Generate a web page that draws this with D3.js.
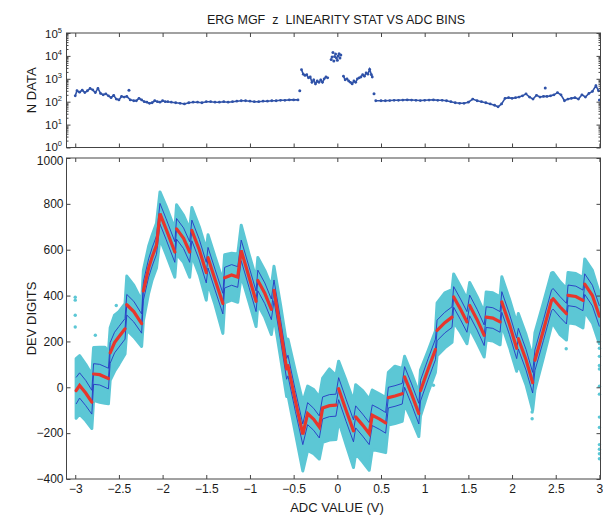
<!DOCTYPE html>
<html><head><meta charset="utf-8">
<script src="https://cdn.jsdelivr.net/npm/d3@7"></script>
<style>
body{margin:0;background:#fff}
svg{display:block}
text{font-family:"Liberation Sans",Arial,sans-serif;fill:#1a1a1a}
</style>
</head><body>
<svg id="c" width="603" height="516"></svg>
<script>
// ---------- DATA ----------
const titleText = "ERG MGF  z  LINEARITY STAT VS ADC BINS";
const xTicks = [-3,-2.5,-2,-1.5,-1,-0.5,0,0.5,1,1.5,2,2.5,3];
const yTopExp = [0,1,2,3,4,5];
const yBotTicks = [-400,-200,0,200,400,600,800,1000];

// Top panel: counts per ADC bin (main sequence, null = gap)
const topV = [-3.00,-2.98,-2.95,-2.92,-2.89,-2.86,-2.83,-2.80,-2.77,-2.74,-2.71,-2.68,-2.65,-2.62,-2.59,-2.56,-2.53,-2.50,-2.47,-2.44,-2.41,-2.37,-2.33,-2.30,-2.27,-2.24,-2.21,-2.18,-2.15,-2.12,-2.09,-2.06,-2.03,-2.00,-1.97,-1.94,-1.90,-1.85,-1.80,-1.75,-1.70,-1.65,-1.60,-1.55,-1.50,-1.45,-1.40,-1.35,-1.30,-1.25,-1.20,-1.15,-1.10,-1.05,-1.00,-0.95,-0.90,-0.85,-0.80,-0.75,-0.70,-0.65,-0.60,-0.55,-0.50,-0.45,-0.44,
  -0.41,-0.39,-0.37,-0.35,-0.33,-0.31,-0.29,-0.27,-0.25,-0.23,-0.21,-0.19,-0.17,-0.15,-0.13,-0.11,-0.10,
  0.07,0.09,0.11,0.13,0.15,0.17,0.19,0.21,0.23,0.25,0.27,0.29,0.31,0.33,0.35,0.37,0.39,0.40,0.41,
  0.44,0.50,0.55,0.60,0.65,0.70,0.75,0.80,0.85,0.90,0.95,1.00,1.05,1.10,1.15,1.20,1.25,1.30,1.35,1.40,1.45,1.50,1.55,1.60,1.65,1.70,1.75,1.80,1.84,1.88,1.92,1.96,2.00,2.04,2.08,2.12,2.16,2.20,2.24,2.28,2.32,2.36,2.40,2.44,2.48,2.52,2.56,2.60,2.64,2.68,2.72,2.76,2.80,2.84,2.88,2.92,2.96,2.99];
const topN = [180,300,260,320,250,300,380,330,250,380,230,200,220,180,150,190,130,120,170,160,170,120,110,110,140,120,100,95,85,90,110,100,95,110,100,100,95,90,85,80,90,95,95,90,100,100,95,95,100,95,100,105,110,110,105,100,100,105,105,110,110,115,115,120,120,120,null,
  2500,1600,1400,1500,1100,1200,700,900,600,800,700,900,700,1000,1200,1100,null,
  1300,900,1000,800,700,600,800,700,1000,1100,1200,1500,1300,1800,1600,2600,1500,1200,null,
  110,110,110,112,115,115,118,120,118,115,112,115,118,120,115,115,110,100,90,85,85,95,130,110,100,90,80,70,60,80,140,150,140,150,160,180,220,160,130,190,160,170,170,180,200,250,200,110,130,140,150,130,200,160,230,280,500,300];
// isolated points in the top panel
const topSpikeV = [-2.385,-0.43,-0.07,-0.06,-0.05,-0.04,-0.03,-0.02,-0.01,0.00,0.01,0.02,0.03,0.04,0.42,2.38,3.00];
const topSpikeN = [320,300,7000,9000,14000,6000,9500,12000,8000,6500,10000,12500,8000,11000,220,400,120];

// Bottom panel: bin means, std dev, and spread of the raw points
const adcV = [-2.99,-2.95,-2.88,-2.81, -2.79,-2.72,-2.66,-2.62, -2.60,-2.55,-2.50,-2.43, -2.41,-2.33,-2.24,
  -2.22,-2.16,-2.12,-2.07,-2.03, -1.96,-1.86, -1.84,-1.76,-1.69, -1.665,-1.58,-1.50, -1.48,-1.40,-1.31,
  -1.29,-1.21,-1.14, -1.10,-1.01,-0.93, -0.91,-0.83,-0.755, -0.725,-0.65,-0.58, -0.565,-0.48,-0.395,
  -0.34,-0.27,-0.206, -0.168,-0.09,-0.016, 0.015,0.10,0.185, 0.21,0.29,0.365, 0.40,0.48,0.553,
  0.584,0.66,0.743, 0.77,0.85,0.933, 0.952,1.04,1.123, 1.142,1.23,1.313, 1.332,1.41,1.484,
  1.515,1.60,1.681, 1.704,1.78,1.863, 1.883,1.97,2.053, 2.072,2.16,2.236, 2.262,2.36,2.452,
  2.47,2.55,2.623, 2.641,2.73,2.812, 2.832,2.92,3.00];
const devMean = [-15,8,-25,-65, 58,55,45,38, 150,195,220,255, 360,330,278,
  420,520,568,620,757, 690,590, 691,650,590, 684,600,500, 565,470,365,
  478,490,481, 597,480,375, 466,410,340, 423,250,80, 95,-60,-205,
  -115,-140,-173, -90,-80,-78, -6,-100,-190, -129,-165,-202, -122,-138,-155,
  -45,-38,-28, 45,-30,-115, -15,80,165, 248,282,306, 394,340,285,
  357,295,227, 306,302,285, 372,275,170, 212,120,20, 118,250,379,
  386,350,321, 401,396,379, 450,400,310];
const devSd = [58,55,55,52, 45,45,45,45, 45,45,45,45, 45,45,42,
  40,40,40,40,45, 45,45, 45,45,45, 45,45,45, 45,45,45,
  45,45,45, 45,45,45, 45,45,45, 45,45,45, 45,45,45,
  48,48,48, 48,48,48, 48,48,48, 48,48,48, 45,45,45,
  45,45,45, 45,45,45, 45,45,45, 45,45,45, 45,45,45,
  45,45,45, 45,45,45, 45,45,45, 45,45,45, 45,45,45,
  45,45,45, 45,45,45, 45,45,45];
const cloudUp = [140,130,125,120, 115,120,130,115, 110,120,110,110, 125,115,100,
  90,95,95,95,95, 100,100, 105,100,100, 100,100,100, 100,100,100,
  100,95,100, 110,100,100, 100,100,100, 105,110,110, 115,130,140,
  120,130,130, 130,160,130, 120,130,130, 140,150,150, 110,110,110,
  110,130,110, 90,90,90, 90,80,80, 120,130,120, 100,100,100,
  100,100,100, 110,110,110, 110,110,110, 110,110,110, 120,120,120,
  115,110,110, 100,100,100, 110,110,100];
const cloudDn = [120,125,120,115, 115,120,115,110, 120,125,120,110, 110,110,100,
  130,110,100,100,110, 110,110, 110,105,110, 110,110,120, 110,110,130,
  110,110,110, 110,110,110, 105,105,110, 115,120,120, 130,140,160,
  160,150,140, 150,150,150, 140,150,160, 160,160,160, 150,140,130,
  120,120,120, 120,110,100, 110,100,100, 110,110,110, 110,100,95,
  100,100,95, 100,100,100, 100,100,100, 110,110,120, 130,120,110,
  110,120,115, 120,120,120, 120,120,120];
// stray raw points outside the main band
const strayV = [-3.0,-3.0,-3.0,-3.0,-2.77,-2.53,1.10,2.23,2.23,2.62,3.0,3.0,3.0,3.0,3.0,3.0,3.0,3.0,3.0,3.0,3.0,3.0,3.0,3.0];
const strayD = [393,380,314,263,227,357,9,-108,-137,168,230,200,170,135,95,80,5,-30,-130,-175,-250,-270,-290,-312];

// ---------- CHART ----------
const svg = d3.select('#c');
const L = 66.5, R = 600.5;
const T1 = 33, B1 = 147.5, T2 = 158, B2 = 479;
const x = d3.scaleLinear().domain([-3.1, 3.0125]).range([L, R]);
const yTop = d3.scaleLog().domain([1, 1e5]).range([B1, T1]);
const yBot = d3.scaleLinear().domain([-400, 1000]).range([B2, T2]);

const axisCol = '#444';
function styleAxis(g){
  g.select('.domain').remove();
  g.selectAll('.tick line').attr('stroke', axisCol).attr('stroke-width', 1);
  g.selectAll('text').attr('font-size', 12).attr('fill', '#1a1a1a')
    .attr('font-family', '"Liberation Sans",Arial,sans-serif');
}

// title
svg.append('text').attr('x', 336).attr('y', 24).attr('text-anchor', 'middle')
  .attr('font-size', 12.5).style('white-space', 'pre').text(titleText);

// ---------- top panel ----------
const gTop = svg.append('g');
const topData = topV.map((v,i)=>({v, n: topN[i]}));
gTop.append('path').datum(topData)
  .attr('fill','none').attr('stroke','#2f52a8').attr('stroke-width',1.6)
  .attr('d', d3.line().defined(d=>d.n!=null).x(d=>x(d.v)).y(d=>yTop(d.n)));
gTop.selectAll('circle.m').data(topData.filter(d=>d.n!=null)).join('circle')
  .attr('cx', d=>x(d.v)).attr('cy', d=>yTop(d.n)).attr('r', 1.4).attr('fill', '#2f52a8');
gTop.selectAll('circle.s').data(topSpikeV.map((v,i)=>({v, n: topSpikeN[i]}))).enter().append('circle')
  .attr('cx', d=>x(d.v)).attr('cy', d=>yTop(d.n)).attr('r', 1.5).attr('fill', '#2f52a8');

// top panel axes
const minorVals = [];
for (let e=0;e<5;e++) for (let m=2;m<10;m++) minorVals.push(m*Math.pow(10,e));
svg.append('g').attr('transform',`translate(0,${B1})`)
  .call(d3.axisBottom(x).tickValues(xTicks).tickSize(-4).tickFormat('')).call(styleAxis);
svg.append('g').attr('transform',`translate(0,${T1})`)
  .call(d3.axisTop(x).tickValues(xTicks).tickSize(-4).tickFormat('')).call(styleAxis);
svg.append('g').attr('transform',`translate(${L},0)`)
  .call(d3.axisLeft(yTop).tickValues(minorVals).tickSize(-2).tickFormat('')).call(styleAxis);
svg.append('g').attr('transform',`translate(${R},0)`)
  .call(d3.axisRight(yTop).tickValues(minorVals).tickSize(-2).tickFormat('')).call(styleAxis);
const yTopMaj = yTopExp.map(e=>Math.pow(10,e));
svg.append('g').attr('transform',`translate(${L},0)`)
  .call(d3.axisLeft(yTop).tickValues(yTopMaj).tickSize(-4).tickFormat('')).call(styleAxis);
svg.append('g').attr('transform',`translate(${R},0)`)
  .call(d3.axisRight(yTop).tickValues(yTopMaj).tickSize(-4).tickFormat('')).call(styleAxis);
// 10^k labels
const lab = svg.append('g');
yTopExp.forEach(e=>{
  const t = lab.append('text').attr('x', 62).attr('y', yTop(Math.pow(10,e)) + (e===0 ? 3 : 4.5))
    .attr('text-anchor','end').attr('font-size', 11.5);
  t.append('tspan').text('10');
  t.append('tspan').attr('font-size', 7.5).attr('dy', -5).text(String(e));
});
svg.append('rect').attr('x',L).attr('y',T1).attr('width',R-L).attr('height',B1-T1)
  .attr('fill','none').attr('stroke',axisCol).attr('stroke-width',1);
svg.append('text').attr('transform',`translate(36,${(T1+B1)/2}) rotate(-90)`)
  .attr('text-anchor','middle').attr('font-size',13).text('N DATA');

// ---------- bottom panel ----------
const gB = svg.append('g');
const pts = adcV.map((v,i)=>({v, m: devMean[i], s: devSd[i], up: cloudUp[i], dn: cloudDn[i]}));
const cyan = '#5cc7d5';
gB.append('path').datum(pts)
  .attr('fill', cyan).attr('stroke', cyan).attr('stroke-width', 3).attr('stroke-linejoin','round')
  .attr('d', d3.area().x(d=>x(d.v)).y0(d=>yBot(d.m - d.dn)).y1(d=>yBot(d.m + d.up)));
gB.selectAll('circle.st').data(strayV.map((v,i)=>({v, d: strayD[i]}))).enter().append('circle')
  .attr('cx', d=>x(d.v)).attr('cy', d=>yBot(d.d)).attr('r', 1.7).attr('fill', cyan);
const blue = '#2638c4';
[d=>d.m + d.s, d=>d.m - d.s, d=>d.m].forEach((fy,k)=>{
  gB.append('path').datum(pts).attr('fill','none').attr('stroke',blue)
    .attr('stroke-width', 0.9)
    .attr('d', d3.line().x(d=>x(d.v)).y(d=>yBot(fy(d))));
});
// red bin means, drawn per segment (break at the jumps)
const segs = [];
pts.forEach((d,i)=>{
  if (i===0 || d.v - pts[i-1].v < 0.035) segs.push([d]); else segs[segs.length-1].push(d);
});
gB.selectAll('path.red').data(segs).enter().append('path')
  .attr('fill','none').attr('stroke','#e8362c').attr('stroke-width',3.2).attr('stroke-linecap','round')
  .attr('d', d3.line().x(d=>x(d.v)).y(d=>yBot(d.m)));

// bottom axes
svg.append('g').attr('transform',`translate(0,${B2})`)
  .call(d3.axisBottom(x).tickValues(xTicks).tickSize(-4).tickPadding(5).tickFormat(d3.format('~g'))).call(styleAxis);
svg.append('g').attr('transform',`translate(0,${T2})`)
  .call(d3.axisTop(x).tickValues(xTicks).tickSize(-4).tickFormat('')).call(styleAxis);
const gyl = svg.append('g').attr('transform',`translate(${L},0)`)
  .call(d3.axisLeft(yBot).tickValues(yBotTicks).tickSize(-4).tickPadding(3).tickFormat(d3.format('d'))).call(styleAxis);
gyl.selectAll('.tick text').filter(d=>d===1000).attr('dy','0.55em');
svg.append('g').attr('transform',`translate(${R},0)`)
  .call(d3.axisRight(yBot).tickValues(yBotTicks).tickSize(-4).tickFormat('')).call(styleAxis);
svg.append('rect').attr('x',L).attr('y',T2).attr('width',R-L).attr('height',B2-T2)
  .attr('fill','none').attr('stroke',axisCol).attr('stroke-width',1);
svg.append('text').attr('transform',`translate(36,${(T2+B2)/2}) rotate(-90)`)
  .attr('text-anchor','middle').attr('font-size',13).text('DEV DIGITS');
svg.append('text').attr('x',337).attr('y',512).attr('text-anchor','middle')
  .attr('font-size',13).text('ADC VALUE (V)');
</script>
</body></html>
